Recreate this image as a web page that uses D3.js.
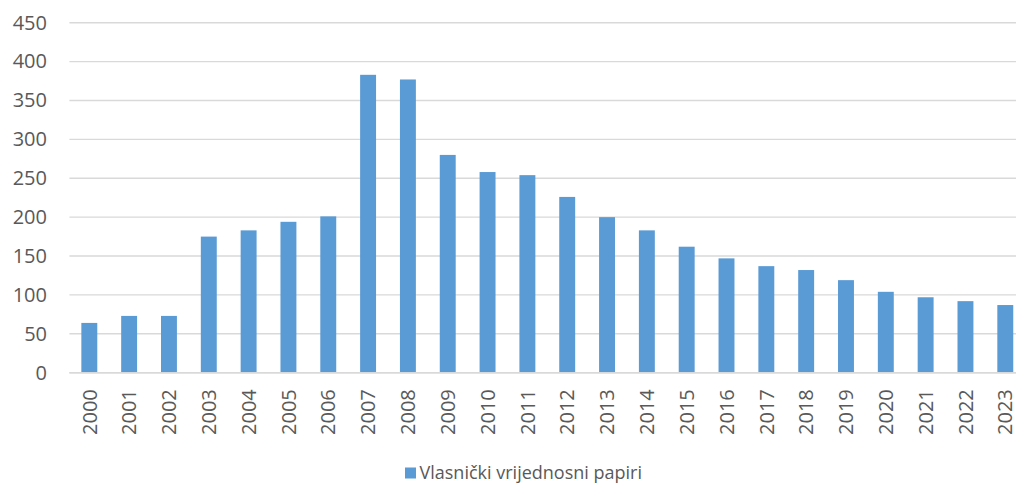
<!DOCTYPE html>
<html>
<head>
<meta charset="utf-8">
<script src="https://cdn.jsdelivr.net/npm/d3@7"></script>
<style>
  html, body { margin: 0; padding: 0; background: #fff; }
  svg { display: block; }
  text { font-family: "Open Sans", sans-serif; fill: #595959; }
</style>
</head>
<body>
<script>
const categories = ["2000","2001","2002","2003","2004","2005","2006","2007","2008","2009","2010","2011","2012","2013","2014","2015","2016","2017","2018","2019","2020","2021","2022","2023"];
const values = [64, 73, 73, 175, 183, 194, 201, 383, 377, 280, 258, 254, 226, 200, 183, 162, 147, 137, 132, 119, 104, 97, 92, 87];
const yTicks = [0, 50, 100, 150, 200, 250, 300, 350, 400, 450];
const seriesName = "Vlasnički vrijednosni papiri";

const W = 1016, H = 485;
const svg = d3.select("body").append("svg").attr("width", W).attr("height", H);

const x = d3.scaleBand().domain(categories).range([69.4, 1025.2]).paddingInner(0.6).paddingOuter(0.3);
const y = d3.scaleLinear().domain([0, 450]).range([372.7, 22.7]);

// gridlines
svg.append("g").selectAll("line").data(yTicks).join("line")
  .attr("x1", 69.4).attr("x2", W)
  .attr("y1", d => y(d)).attr("y2", d => y(d))
  .attr("stroke", "#D9D9D9").attr("stroke-width", 1.4);

// y axis labels
const yAxis = d3.axisLeft(y).tickValues(yTicks).tickSize(0).tickPadding(0);
const gy = svg.append("g").attr("transform", "translate(47,0)").call(yAxis);
gy.select(".domain").remove();
gy.selectAll("text").style("font-size", "20px").attr("fill", "#595959").style("font-family", "'Open Sans', sans-serif");

// bars
svg.append("g").selectAll("rect").data(values).join("rect")
  .attr("x", (d, i) => x(categories[i]))
  .attr("width", x.bandwidth())
  .attr("y", d => y(d))
  .attr("height", d => y(0) - y(d))
  .attr("fill", "#5B9BD5");

// baseline axis
svg.append("line").attr("x1", 69.4).attr("x2", W).attr("y1", y(0)).attr("y2", y(0))
  .attr("stroke", "#D9D9D9").attr("stroke-width", 1.4);

// x labels
const xAxis = d3.axisBottom(x).tickSize(0).tickPadding(0);
const gx = svg.append("g").attr("transform", `translate(0,${y(0)})`).call(xAxis);
gx.select(".domain").remove();
gx.selectAll("text")
  .style("font-size", "20px").attr("fill", "#595959").style("font-family", "'Open Sans', sans-serif")
  .attr("transform", "translate(0,16.5) rotate(-90)")
  .attr("text-anchor", "end")
  .attr("x", 0).attr("y", 0).attr("dy", "0.36em");

// legend
const lg = svg.append("g");
lg.append("rect").attr("x", 405).attr("y", 467.5).attr("width", 11).attr("height", 11).attr("fill", "#5B9BD5");
lg.append("text").attr("x", 419.5).attr("y", 473).attr("dy", "0.36em")
  .style("font-size", "18px").text(seriesName);
</script>
</body>
</html>
